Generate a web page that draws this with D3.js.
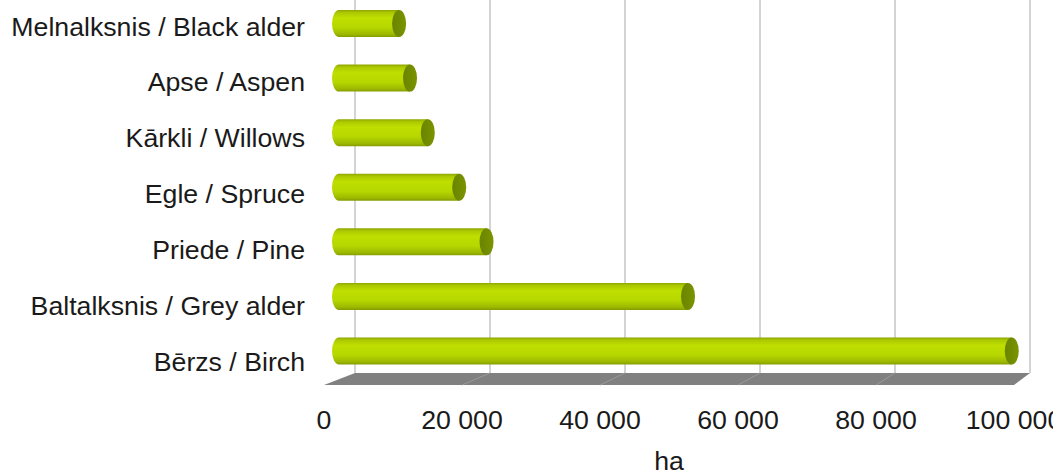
<!DOCTYPE html>
<html>
<head>
<meta charset="utf-8">
<script src="https://cdn.jsdelivr.net/npm/d3@7"></script>
<style>
  body { margin: 0; background: #fff; }
  text { font-family: "Liberation Sans", Arial, sans-serif; fill: #1a1a1a; }
</style>
</head>
<body>
<div id="chart"></div>
<script>
const categories = [
  "Melnalksnis / Black alder",
  "Apse / Aspen",
  "Kārkli / Willows",
  "Egle / Spruce",
  "Priede / Pine",
  "Baltalksnis / Grey alder",
  "Bērzs / Birch",
];
const values = [8800, 10400, 13000, 17600, 21600, 51100, 98500];
const ticks = [0, 20000, 40000, 60000, 80000, 100000];
const axisTitle = "ha";

const width = 1053;
const height = 474;
const fontSize = 26.7;

const svg = d3
  .select("#chart")
  .append("svg")
  .attr("width", width)
  .attr("height", height);

const defs = svg.append("defs");
const grad = defs
  .append("linearGradient")
  .attr("id", "cyl")
  .attr("x1", 0).attr("y1", 0)
  .attr("x2", 0).attr("y2", 1);
[
  [0, "#8fa600"],
  [0.1, "#adc900"],
  [0.3, "#bfdf00"],
  [0.65, "#b6d700"],
  [0.9, "#9cb800"],
  [1, "#869c00"],
].forEach(([o, c]) => grad.append("stop").attr("offset", o).attr("stop-color", c));

const capGrad = defs
  .append("linearGradient")
  .attr("id", "cap")
  .attr("x1", 0).attr("y1", 0)
  .attr("x2", 1).attr("y2", 0);
capGrad.append("stop").attr("offset", 0).attr("stop-color", "#6a8400");
capGrad.append("stop").attr("offset", 1).attr("stop-color", "#7a9400");

// back wall, mid depth (bars) and front edge scales (fake perspective)
const domain = [0, 100000];
const xBack = d3.scaleLinear().domain(domain).range([355, 1030]);
const xBar = d3.scaleLinear().domain(domain).range([339, 1022]);
const xFront = d3.scaleLinear().domain(domain).range([324, 1014]);

const yBar = d3.scalePoint().domain(categories).range([23.5, 351]);
const yLabel = d3.scalePoint().domain(categories).range([26, 361]);

const floorBack = 373;
const floorFront = 385;
const barH = 27;
const capRx = 7;

// gridlines on back wall
svg
  .append("g")
  .selectAll("line")
  .data(ticks)
  .join("line")
  .attr("x1", (d) => xBack(d))
  .attr("x2", (d) => xBack(d))
  .attr("y1", 0)
  .attr("y2", floorBack)
  .attr("stroke", "#a8a8a8")
  .attr("stroke-width", 1);

// floor
svg
  .append("polygon")
  .attr(
    "points",
    [
      [xBack(0), floorBack],
      [xBack(100000), floorBack],
      [xFront(100000), floorFront],
      [xFront(0), floorFront],
    ].join(" ")
  )
  .attr("fill", "#808080");

svg
  .append("g")
  .selectAll("line")
  .data(ticks.slice(1, -1))
  .join("line")
  .attr("x1", (d) => xBack(d))
  .attr("x2", (d) => xFront(d))
  .attr("y1", floorBack)
  .attr("y2", floorFront)
  .attr("stroke", "#9a9a9a")
  .attr("stroke-width", 1);

// cylinders
const bars = svg
  .append("g")
  .selectAll("g")
  .data(categories.map((c, i) => ({ cat: c, value: values[i] })))
  .join("g");

bars
  .append("path")
  .attr("d", (d) => {
    const x0 = xBar(0);
    const x1 = xBar(d.value);
    const top = yBar(d.cat) - barH / 2;
    const bot = yBar(d.cat) + barH / 2;
    return (
      `M${x1},${top} L${x0},${top} ` +
      `A${capRx},${barH / 2} 0 0 0 ${x0},${bot} L${x1},${bot} Z`
    );
  })
  .attr("fill", "url(#cyl)");

bars
  .append("ellipse")
  .attr("cx", (d) => xBar(d.value))
  .attr("cy", (d) => yBar(d.cat))
  .attr("rx", capRx)
  .attr("ry", barH / 2)
  .attr("fill", "url(#cap)");

// category labels
svg
  .append("g")
  .selectAll("text")
  .data(categories)
  .join("text")
  .attr("x", 305)
  .attr("y", (d) => yLabel(d) + 9.5)
  .attr("text-anchor", "end")
  .attr("font-size", fontSize)
  .text((d) => d);

// value axis labels
svg
  .append("g")
  .selectAll("text")
  .data(ticks)
  .join("text")
  .attr("x", (d) => xFront(d))
  .attr("y", 429)
  .attr("text-anchor", "middle")
  .attr("font-size", fontSize)
  .text((d) => d3.format(",")(d).replace(/,/g, " "));

svg
  .append("text")
  .attr("x", xFront(50000))
  .attr("y", 470)
  .attr("text-anchor", "middle")
  .attr("font-size", fontSize)
  .text(axisTitle);
</script>
</body>
</html>
